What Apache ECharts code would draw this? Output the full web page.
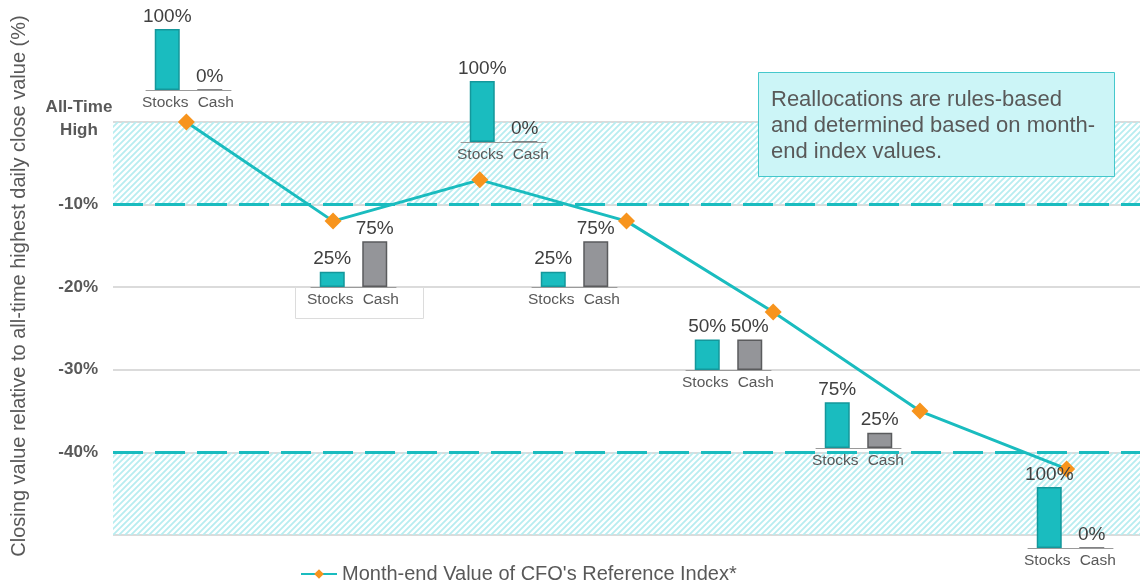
<!DOCTYPE html>
<html>
<head>
<meta charset="utf-8">
<script src="https://cdn.jsdelivr.net/npm/echarts@6/dist/echarts.min.js"></script>
<style>html,body{margin:0;padding:0;background:#fff}#c{width:1140px;height:586px}</style>
</head>
<body>
<div id="c"></div>
<script>
// ---- data ----
const months = ['M1','M2','M3','M4','M5','M6','M7'];
const indexValues = [0, -12, -7, -12, -23, -35, -42];
const allocCategories = ['Stocks', 'Cash'];
const stocksAlloc = [100, 25, 100, 25, 50, 75, 100];
const cashAlloc = [0, 75, 0, 75, 50, 25, 0];
const thresholds = [-10, -40];
const topLabel = 'All-Time\nHigh';
const seriesName = "Month-end Value of CFO's Reference Index*";
const yAxisTitle = 'Closing value relative to all-time highest daily close value (%)';
const noteText = 'Reallocations are rules-based\nand determined based on month-\nend index values.';

// ---- layout (positions of the small allocation charts: left x, baseline y) ----
const miniPos = [[146,90],[311,287],[461,142],[532,287],[686,370],[816,448],[1028,548]];
const MINI_W = 85, MINI_H = 61;

const TEAL = '#1ABCBF', TEAL_D = '#14979B', GRAY = '#949599', GRAY_D = '#5A5B5D', TXT = '#595959';
const FONT = 'Liberation Sans, Arial, sans-serif';

// hatch pattern (transparent background)
const pc = document.createElement('canvas');
pc.width = 6; pc.height = 6;
const g = pc.getContext('2d');
g.strokeStyle = '#b8edf0'; g.lineWidth = 1.8;
g.beginPath();
g.moveTo(-1,7); g.lineTo(7,-1);
g.moveTo(-1,1); g.lineTo(1,-1);
g.moveTo(5,7); g.lineTo(7,5);
g.stroke();
const hatch = {image: pc, repeat: 'repeat'};

const grids = [{left: 113, top: 122, width: 1037, height: 413}];
const xAxes = [{
  gridIndex: 0, type: 'category', data: months, boundaryGap: true,
  axisLine: {show: false}, axisTick: {show: false}, axisLabel: {show: false}, splitLine: {show: false}
}];
const yAxes = [{
  gridIndex: 0, type: 'value', min: -50, max: 0, interval: 10,
  axisLine: {show: false}, axisTick: {show: false},
  axisLabel: {
    margin: 15, color: TXT, fontWeight: 'bold', fontSize: 17, fontFamily: FONT,
    formatter: v => (v === 0 || v === -50) ? '' : v + '%'
  },
  splitLine: {lineStyle: {color: '#cfcfcf', width: 1.5}}
}];
const series = [{
  name: seriesName, type: 'line', xAxisIndex: 0, yAxisIndex: 0, data: indexValues,
  z: 10,
  lineStyle: {color: TEAL, width: 3},
  itemStyle: {color: '#F7941D'},
  symbol: 'diamond', symbolSize: 17,
  markArea: {
    silent: true,
    itemStyle: {color: hatch},
    data: [[{yAxis: 0}, {yAxis: thresholds[0]}], [{yAxis: thresholds[1]}, {yAxis: -50}]]
  },
  markLine: {
    silent: true, symbol: 'none', label: {show: false},
    lineStyle: {color: TEAL, width: 3, type: [30, 12]},
    data: thresholds.map(t => ({yAxis: t}))
  }
}];

miniPos.forEach((p, i) => {
  const gi = i + 1;
  grids.push({left: p[0], top: p[1] - MINI_H, width: MINI_W, height: MINI_H});
  xAxes.push({
    gridIndex: gi, type: 'category', data: allocCategories, z: 50,
    axisLine: {lineStyle: {color: '#9a9a9a', width: 1}}, axisTick: {show: false},
    axisLabel: {
      margin: 5, interval: 0, hideOverlap: false,
      formatter: (v, k) => k === 0 ? '{s|' + v + '}' : '{c|' + v + '}',
      rich: {
        s: {color: TXT, fontSize: 15.5, fontFamily: FONT, padding: [0, 4, 0, 0]},
        c: {color: TXT, fontSize: 15.5, fontFamily: FONT, padding: [0, 0, 0, 12]}
      }
    }
  });
  yAxes.push({gridIndex: gi, type: 'value', min: 0, max: 100, show: false, splitLine: {show: false}});
  series.push({
    type: 'bar', xAxisIndex: gi, yAxisIndex: gi, barWidth: 25, z: 20,
    data: [stocksAlloc[i], cashAlloc[i]].map((v, k) => ({
      value: v,
      itemStyle: {color: k === 0 ? TEAL : GRAY, borderColor: k === 0 ? TEAL_D : GRAY_D, borderWidth: 1.5}
    })),
    label: {show: true, position: 'top', distance: 3, formatter: '{c}%', color: '#404040', fontSize: 19, fontFamily: FONT}
  });
});

const chart = echarts.init(document.getElementById('c'), null, {renderer: 'canvas'});
chart.setOption({
  animation: false,
  textStyle: {fontFamily: FONT},
  grid: grids, xAxis: xAxes, yAxis: yAxes, series: series,
  legend: {
    data: [seriesName], left: 295, bottom: -3, itemWidth: 36, itemHeight: 12, itemGap: 4,
    textStyle: {color: TXT, fontSize: 20, fontFamily: FONT}
  },
  graphic: [
    {type: 'text', rotation: Math.PI / 2, z: 20,
     x: 19, y: 286, style: {text: yAxisTitle, fill: TXT, font: '20px ' + FONT, textAlign: 'center', textVerticalAlign: 'middle'}},
    {type: 'text', z: 20, x: 79, y: 119,
     style: {text: topLabel, fill: TXT, font: 'bold 17px ' + FONT, lineHeight: 23, textAlign: 'center', textVerticalAlign: 'middle'}},
    {type: 'rect', z: 1, shape: {x: 295.5, y: 287.5, width: 128, height: 31},
     style: {fill: 'rgba(255,255,255,0)', stroke: '#dcdcdc', lineWidth: 1}},
    {type: 'rect', z: 30, shape: {x: 758.5, y: 72.5, width: 356, height: 104},
     style: {fill: '#CCF5F7', stroke: '#45C8CC', lineWidth: 1}},
    {type: 'text', z: 31, x: 771, y: 87,
     style: {text: noteText, fill: TXT, font: '22px ' + FONT, lineHeight: 26}}
  ]
});
</script>
</body>
</html>
